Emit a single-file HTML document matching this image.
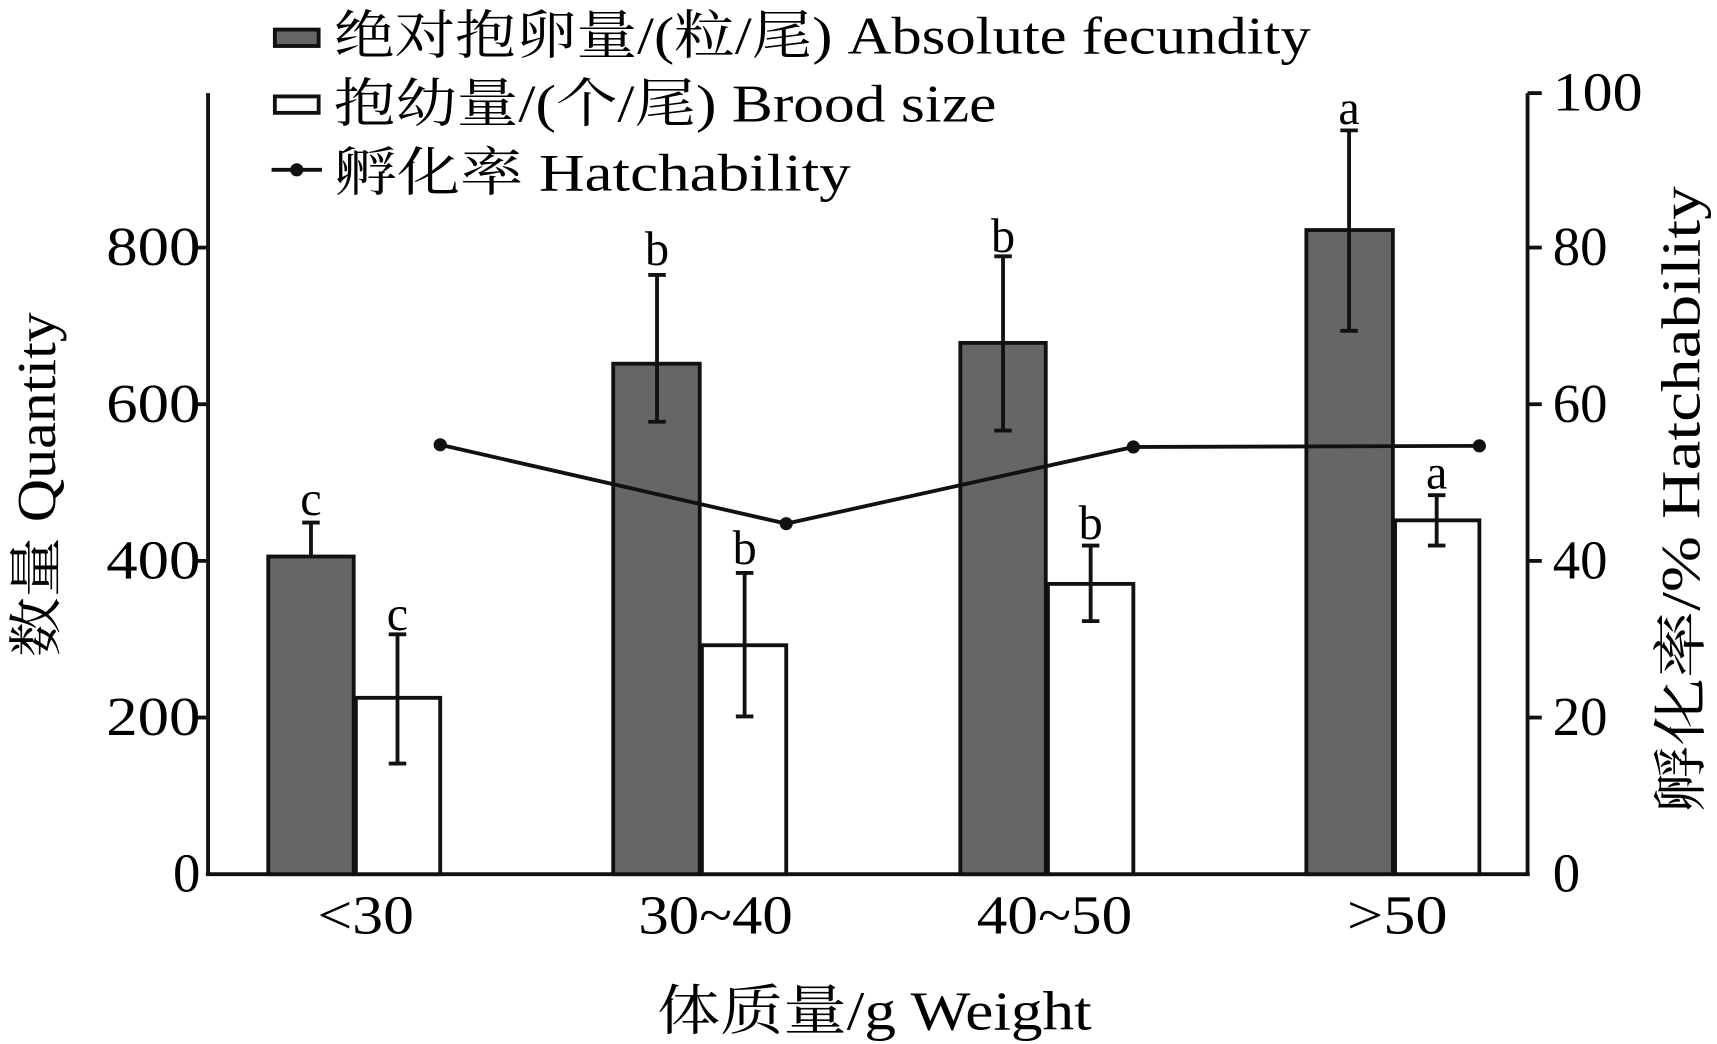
<!DOCTYPE html>
<html><head><meta charset="utf-8"><style>html,body{margin:0;padding:0;background:#fff}svg{display:block}</style></head>
<body>
<svg width="1717" height="1044" viewBox="0 0 1568 953" preserveAspectRatio="none" xmlns="http://www.w3.org/2000/svg" font-family="'Liberation Serif','Noto Serif CJK SC',serif" fill="#000">
<g stroke="#111" stroke-width="3.5" fill="none">
<line x1="190" y1="85" x2="190" y2="798"/>
<line x1="188" y1="798" x2="1397" y2="798"/>
<line x1="1395" y1="85" x2="1395" y2="798"/>
<line x1="178" y1="226" x2="190" y2="226"/><line x1="178" y1="369" x2="190" y2="369"/><line x1="178" y1="512" x2="190" y2="512"/><line x1="178" y1="655" x2="190" y2="655"/>
<line x1="1395" y1="85" x2="1408" y2="85"/><line x1="1395" y1="226" x2="1408" y2="226"/><line x1="1395" y1="369" x2="1408" y2="369"/><line x1="1395" y1="512" x2="1408" y2="512"/><line x1="1395" y1="655" x2="1408" y2="655"/>
</g>
<g stroke="#111" stroke-width="3.5">
<rect x="245" y="508" width="78" height="290" fill="#666"/>
<rect x="325" y="637" width="77" height="161" fill="#fff"/>
<rect x="560" y="332" width="79" height="466" fill="#666"/>
<rect x="641" y="589" width="77" height="209" fill="#fff"/>
<rect x="877" y="313" width="78" height="485" fill="#666"/>
<rect x="957" y="533" width="78" height="265" fill="#fff"/>
<rect x="1193" y="210" width="79" height="588" fill="#666"/>
<rect x="1274" y="475" width="77" height="323" fill="#fff"/>
</g>
<g stroke="#111" stroke-width="3.5">
<path d="M284 477V508M276 477H292"/>
<path d="M363 579V697M355 579H371M355 697H371"/>
<path d="M600 251V385M592 251H608M592 385H608"/>
<path d="M680 523V654M672 523H688M672 654H688"/>
<path d="M916 234V393M908 234H924M908 393H924"/>
<path d="M996 498V567M988 498H1004M988 567H1004"/>
<path d="M1232 119V302M1224 119H1240M1224 302H1240"/>
<path d="M1312 452V498M1304 452H1320M1304 498H1320"/>
</g>
<polyline points="402,406 718,478 1035,408 1351,407" fill="none" stroke="#111" stroke-width="3.5"/>
<g fill="#111"><circle cx="402" cy="406" r="6"/><circle cx="718" cy="478" r="6"/><circle cx="1035" cy="408" r="6"/><circle cx="1351" cy="407" r="6"/></g>
<g font-size="44" text-anchor="middle">
<text x="284" y="470">c</text><text x="363" y="575">c</text>
<text x="600" y="242">b</text><text x="680" y="515">b</text>
<text x="916" y="230">b</text><text x="996" y="492">b</text>
<text x="1232" y="113">a</text><text x="1312" y="446">a</text>
</g>
<g font-size="50" text-anchor="end">
<text x="183" y="242" textLength="86" lengthAdjust="spacingAndGlyphs">800</text><text x="183" y="385" textLength="86" lengthAdjust="spacingAndGlyphs">600</text><text x="183" y="528" textLength="86" lengthAdjust="spacingAndGlyphs">400</text><text x="183" y="671" textLength="86" lengthAdjust="spacingAndGlyphs">200</text><text x="183" y="814">0</text>
</g>
<g font-size="50" text-anchor="start">
<text x="1418" y="101" textLength="82" lengthAdjust="spacingAndGlyphs">100</text><text x="1418" y="242">80</text><text x="1418" y="385">60</text><text x="1418" y="528">40</text><text x="1418" y="671">20</text><text x="1418" y="814">0</text>
</g>
<g font-size="50">
<text x="290" y="852" textLength="88" lengthAdjust="spacingAndGlyphs">&lt;30</text>
<text x="583" y="852" textLength="141" lengthAdjust="spacingAndGlyphs">30~40</text>
<text x="892" y="852" textLength="142" lengthAdjust="spacingAndGlyphs">40~50</text>
<text x="1230" y="852" textLength="92" lengthAdjust="spacingAndGlyphs">&gt;50</text>
<text x="600" y="940" textLength="397" lengthAdjust="spacingAndGlyphs">体质量/g  Weight</text>
<text transform="translate(50,600) rotate(-90)" textLength="315" lengthAdjust="spacingAndGlyphs">数量 Quantity</text>
<text transform="translate(1552,742) rotate(-90)" textLength="572" lengthAdjust="spacingAndGlyphs">孵化率/%  Hatchability</text>
</g>
<g font-size="48">
<rect x="251" y="27" width="40" height="15" fill="#666" stroke="#111" stroke-width="3.5"/>
<text x="305" y="49" textLength="892" lengthAdjust="spacingAndGlyphs">绝对抱卵量/(粒/尾) Absolute fecundity</text>
<rect x="251" y="88" width="40" height="15" fill="#fff" stroke="#111" stroke-width="3.5"/>
<text x="305" y="111" textLength="605" lengthAdjust="spacingAndGlyphs">抱幼量/(个/尾)  Brood size</text>
<line x1="248" y1="155" x2="294" y2="155" stroke="#111" stroke-width="3.5"/>
<circle cx="271" cy="155" r="6" fill="#111"/>
<text x="305" y="174" textLength="472" lengthAdjust="spacingAndGlyphs">孵化率  Hatchability</text>
</g>
</svg>
</body></html>
